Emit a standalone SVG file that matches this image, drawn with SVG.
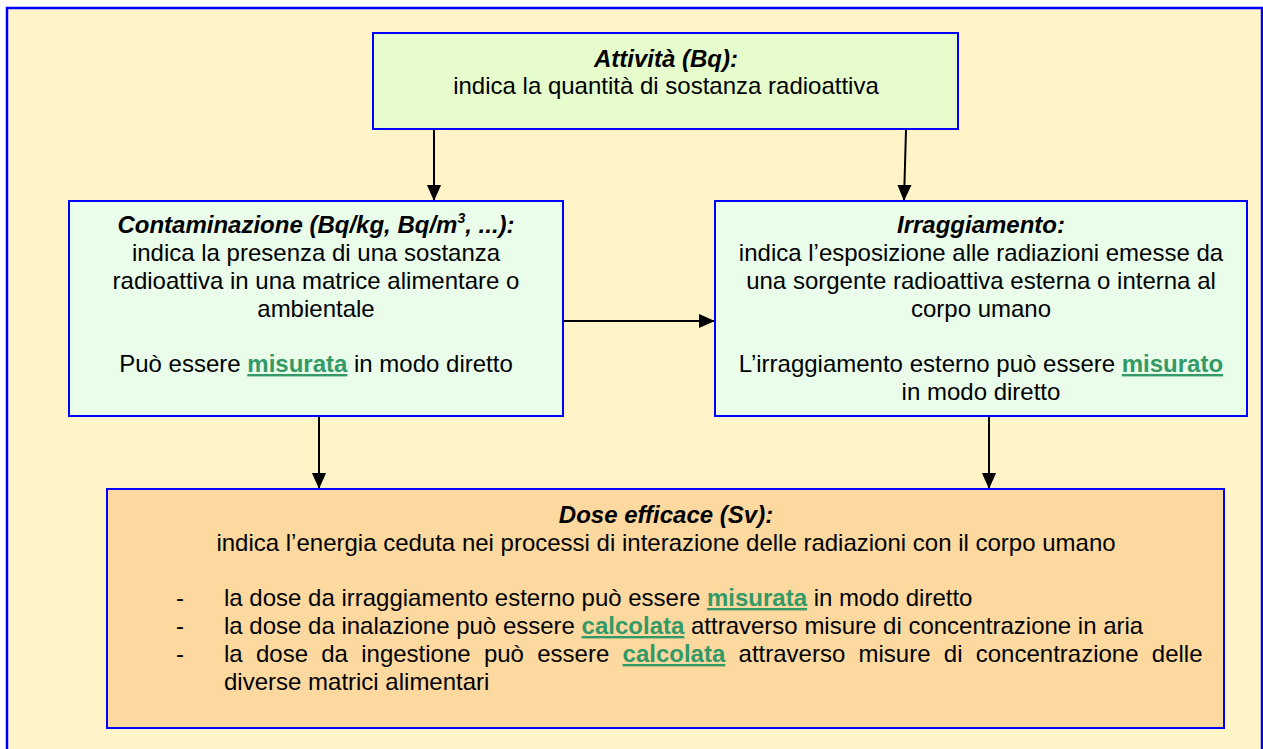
<svg xmlns="http://www.w3.org/2000/svg" width="1263" height="749" viewBox="0 0 1263 749">
<style>
text{font-family:"Liberation Sans",Arial,sans-serif;font-size:24px;fill:#000}
.c{text-anchor:middle}
.t{font-weight:bold;font-style:italic}
.g{font-weight:bold;fill:#339966;text-decoration:underline}
.box{stroke:#0000ff;stroke-width:2}
.ln{stroke:#000;stroke-width:2;fill:none}
</style>
<defs>
<marker id="ah" markerUnits="userSpaceOnUse" markerWidth="16" markerHeight="16" refX="17" refY="8" viewBox="0 0 18 16" orient="auto">
<path d="M0,0 L18,8 L0,16 Z" fill="#000"/>
</marker>
</defs>
<rect x="7" y="8" width="1255" height="760" fill="#fff3c8" stroke="#0000ff" stroke-width="2.5"/>
<g id="connectors">
<line class="ln" x1="434" y1="130" x2="434" y2="200" marker-end="url(#ah)"/>
<line class="ln" x1="906" y1="130" x2="904" y2="200" marker-end="url(#ah)"/>
<line class="ln" x1="564" y1="321" x2="714" y2="321" marker-end="url(#ah)"/>
<line class="ln" x1="319" y1="417" x2="319" y2="488" marker-end="url(#ah)"/>
<line class="ln" x1="989" y1="417" x2="989" y2="488" marker-end="url(#ah)"/>
</g>
<g id="attivita">
<rect class="box" x="373" y="33" width="585" height="96" fill="#e6fccc"/>
<text class="c t" x="666" y="67">Attività (Bq):</text>
<text class="c" x="666" y="94">indica la quantità di sostanza radioattiva</text>
</g>
<g id="contaminazione">
<rect class="box" x="69" y="201" width="494" height="215" fill="#eafdea"/>
<text class="c t" x="316" y="233">Contaminazione (Bq/kg, Bq/m<tspan font-size="14" dy="-10">3</tspan><tspan dy="10">, ...):</tspan></text>
<text class="c" x="316" y="261">indica la presenza di una sostanza</text>
<text class="c" x="316" y="289">radioattiva in una matrice alimentare o</text>
<text class="c" x="316" y="317">ambientale</text>
<text class="c" x="316" y="372">Può essere <tspan class="g">misurata</tspan> in modo diretto</text>
</g>
<g id="irraggiamento">
<rect class="box" x="715" y="201" width="532" height="215" fill="#eafdea"/>
<text class="c t" x="981" y="233">Irraggiamento:</text>
<text class="c" x="981" y="261">indica l’esposizione alle radiazioni emesse da</text>
<text class="c" x="981" y="289">una sorgente radioattiva esterna o interna al</text>
<text class="c" x="981" y="317">corpo umano</text>
<text class="c" x="981" y="372">L’irraggiamento esterno può essere <tspan class="g">misurato</tspan></text>
<text class="c" x="981" y="400">in modo diretto</text>
</g>
<g id="dose">
<rect class="box" x="107" y="489" width="1117" height="239" fill="#fdd9a0"/>
<text class="c t" x="666" y="523">Dose efficace (Sv):</text>
<text class="c" x="666" y="551">indica l’energia ceduta nei processi di interazione delle radiazioni con il corpo umano</text>
<text x="176" y="606">-</text>
<text x="176" y="634">-</text>
<text x="176" y="662">-</text>
<text x="224" y="606">la dose da irraggiamento esterno può essere <tspan class="g">misurata</tspan> in modo diretto</text>
<text x="224" y="634">la dose da inalazione può essere <tspan class="g">calcolata</tspan> attraverso misure di concentrazione in aria</text>
<text x="224" y="662" word-spacing="6.6">la dose da ingestione può essere <tspan class="g">calcolata</tspan> attraverso misure di concentrazione delle</text>
<text x="224" y="690">diverse matrici alimentari</text>
</g>
</svg>
